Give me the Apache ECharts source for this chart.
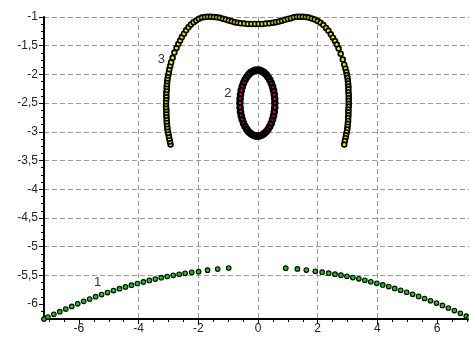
<!DOCTYPE html>
<html>
<head>
<meta charset="utf-8">
<script src="https://cdn.jsdelivr.net/npm/echarts@6/dist/echarts.min.js"></script>
<style>
  html, body { margin: 0; padding: 0; background: #fff; }
  #chart { width: 469px; height: 338px; }
</style>
</head>
<body>
<div id="chart"></div>
<script>
// Axis ticks
const xMajorTicks = [-6, -4, -2, 0, 2, 4, 6];
const xMinorTicks = [-7, -6.5, -5.5, -5, -4.5, -3.5, -3, -2.5, -1.5, -1, -0.5,
  0.5, 1, 1.5, 2.5, 3, 3.5, 4.5, 5, 5.5, 6.5, 7];
const yMajorTicks = [-6, -5.5, -5, -4.5, -4, -3.5, -3, -2.5, -2, -1.5, -1];
const yMinorTicks = [-6.25, -6.125, -5.875, -5.75, -5.625, -5.375, -5.25, -5.125,
  -4.875, -4.75, -4.625, -4.375, -4.25, -4.125, -3.875, -3.75, -3.625, -3.375,
  -3.25, -3.125, -2.875, -2.75, -2.625, -2.375, -2.25, -2.125, -1.875, -1.75,
  -1.625, -1.375, -1.25, -1.125];

// Curve 1 (green): two arms of a downward arc
const curve1X = [-7.17, -7.04, -6.84, -6.64, -6.44, -6.24, -6.04, -5.84, -5.64, -5.44,
  -5.24, -5.04, -4.84, -4.64, -4.44, -4.24, -4.04, -3.84, -3.64, -3.44,
  -3.24, -3.04, -2.84, -2.64, -2.44, -2.22, -1.99, -1.69, -1.35, -0.98,
  0.93, 1.32, 1.62, 1.92, 2.15, 2.37, 2.58, 2.78, 2.98, 3.18,
  3.38, 3.58, 3.78, 3.98, 4.18, 4.38, 4.58, 4.78, 4.98, 5.18,
  5.38, 5.58, 5.78, 5.98, 6.18, 6.38, 6.58, 6.78, 6.98, 7.07];
const curve1Y = [-6.26, -6.227, -6.179, -6.132, -6.086, -6.041, -5.995, -5.953, -5.912, -5.872,
  -5.835, -5.8, -5.765, -5.732, -5.701, -5.671, -5.642, -5.614, -5.589, -5.564,
  -5.541, -5.52, -5.5, -5.481, -5.464, -5.447, -5.435, -5.41, -5.39, -5.372,
  -5.374, -5.388, -5.408, -5.43, -5.445, -5.462, -5.479, -5.497, -5.517, -5.539,
  -5.561, -5.585, -5.611, -5.638, -5.666, -5.696, -5.727, -5.76, -5.794, -5.83,
  -5.866, -5.903, -5.942, -5.982, -6.024, -6.068, -6.114, -6.161, -6.21, -6.235];

// Curve 2 (magenta): closed loop around (0, -2.5)
const curve2X = [0.565, 0.56, 0.545, 0.521, 0.487, 0.444, 0.394, 0.336, 0.273, 0.204, 0.132, 0.057,
  -0.02, -0.097, -0.172, -0.244, -0.313, -0.376, -0.434, -0.484, -0.527, -0.561, -0.585, -0.6,
  -0.605, -0.6, -0.585, -0.561, -0.527, -0.484, -0.434, -0.376, -0.313, -0.244, -0.172, -0.097,
  -0.02, 0.057, 0.132, 0.204, 0.273, 0.336, 0.394, 0.444, 0.487, 0.521, 0.545, 0.56];
const curve2Y = [-2.5, -2.425, -2.351, -2.28, -2.213, -2.15, -2.093, -2.044, -2.002, -1.969, -1.945, -1.93,
  -1.925, -1.93, -1.945, -1.969, -2.002, -2.044, -2.093, -2.15, -2.213, -2.28, -2.351, -2.425,
  -2.5, -2.575, -2.649, -2.72, -2.787, -2.85, -2.907, -2.956, -2.998, -3.031, -3.055, -3.07,
  -3.075, -3.07, -3.055, -3.031, -2.998, -2.956, -2.907, -2.85, -2.787, -2.72, -2.649, -2.575];

// Curve 3 (yellow): arch with two legs
const curve3X = [-2.93, -2.95, -2.97, -2.99, -3.01, -3.03, -3.04, -3.05, -3.06, -3.06,
  -3.07, -3.07, -3.07, -3.08, -3.08, -3.08, -3.07, -3.07, -3.07, -3.06,
  -3.06, -3.05, -3.04, -3.03, -3.01, -2.99, -2.97, -2.94, -2.91, -2.86,
  -2.8, -2.73, -2.67, -2.61, -2.55, -2.48, -2.41, -2.33, -2.25, -2.16,
  -2.07, -1.98, -1.88, -1.78, -1.68, -1.58, -1.48, -1.38, -1.28, -1.18,
  -1.08, -0.98, -0.88, -0.78, -0.68, -0.58, -0.46, -0.34, -0.22, -0.1,
  0.02, 0.14, 0.26, 0.38, 0.5, 0.6, 0.7, 0.8, 0.9, 1.0,
  1.1, 1.2, 1.3, 1.4, 1.5, 1.6, 1.7, 1.8, 1.9, 2.0,
  2.1, 2.19, 2.28, 2.36, 2.44, 2.51, 2.58, 2.64, 2.7, 2.77,
  2.84, 2.89, 2.93, 2.96, 2.98, 3.0, 3.01, 3.02, 3.03, 3.03,
  3.03, 3.04, 3.04, 3.04, 3.04, 3.04, 3.03, 3.03, 3.03, 3.02,
  3.02, 3.01, 3.0, 2.99, 2.97, 2.95, 2.93, 2.91, 2.89];
const curve3Y = [-3.22, -3.17, -3.12, -3.07, -3.02, -2.97, -2.92, -2.87, -2.82, -2.77,
  -2.72, -2.67, -2.62, -2.57, -2.52, -2.47, -2.42, -2.37, -2.32, -2.27,
  -2.22, -2.17, -2.12, -2.07, -2.02, -1.97, -1.91, -1.85, -1.79, -1.71,
  -1.62, -1.54, -1.47, -1.41, -1.35, -1.29, -1.23, -1.18, -1.13, -1.09,
  -1.06, -1.03, -1.01, -1.0, -0.995, -0.995, -1.0, -1.005, -1.015, -1.03,
  -1.045, -1.06, -1.075, -1.09, -1.1, -1.11, -1.115, -1.12, -1.12, -1.12,
  -1.12, -1.12, -1.115, -1.11, -1.1, -1.09, -1.08, -1.065, -1.05, -1.035,
  -1.02, -1.005, -0.995, -0.995, -0.995, -1.0, -1.01, -1.025, -1.045, -1.07,
  -1.1, -1.14, -1.19, -1.24, -1.3, -1.36, -1.42, -1.48, -1.55, -1.64,
  -1.74, -1.83, -1.9, -1.96, -2.01, -2.06, -2.11, -2.16, -2.21, -2.26,
  -2.31, -2.36, -2.41, -2.46, -2.51, -2.56, -2.61, -2.66, -2.71, -2.76,
  -2.81, -2.86, -2.91, -2.96, -3.01, -3.06, -3.11, -3.16, -3.22];

const seriesNames = ['1', '2', '3'];

const X_MIN = -7.17, X_MAX = 7.07, Y_MIN = -6.26, Y_MAX = -1;

function buildPoints(xs, ys, tagIndex, tagText, tagOffset) {
  return xs.map((x, i) => {
    if (i !== tagIndex) return [x, ys[i]];
    return {
      value: [x, ys[i]],
      label: {
        show: true,
        formatter: tagText,
        position: 'inside',
        offset: tagOffset,
        color: '#333',
        fontSize: 13,
        fontFamily: 'Liberation Sans, Arial, sans-serif'
      }
    };
  });
}

const gridLine = { show: true, lineStyle: { color: '#9a9a9a', type: [5, 3], width: 1 } };
const labelFont = { color: '#222', fontSize: 12, fontFamily: 'Liberation Sans, Arial, sans-serif' };
const fmtComma = v => String(v).replace('.', ',');

const chart = echarts.init(document.getElementById('chart'), null, { renderer: 'canvas' });

chart.setOption({
  animation: false,
  backgroundColor: '#fff',
  grid: { left: 44, right: 0, top: 17, bottom: 19, containLabel: false },
  xAxis: [
    {
      type: 'value', min: X_MIN, max: X_MAX, position: 'bottom', splitNumber: 7,
      axisLine: { show: true, onZero: false, lineStyle: { color: '#000', width: 2 } },
      axisTick: { show: true, customValues: xMajorTicks, length: 5, lineStyle: { color: '#000' } },
      axisLabel: { show: true, customValues: xMajorTicks, margin: 4, formatter: fmtComma, ...labelFont },
      splitLine: { ...gridLine, showMinLine: false, showMaxLine: false }
    },
    {
      type: 'value', min: X_MIN, max: X_MAX, position: 'bottom',
      axisLine: { show: false, onZero: false },
      axisTick: { show: true, customValues: xMinorTicks, length: 3, lineStyle: { color: '#000' } },
      axisLabel: { show: false },
      splitLine: { show: false }
    }
  ],
  yAxis: [
    {
      type: 'value', min: Y_MIN, max: Y_MAX, position: 'left', splitNumber: 10,
      axisLine: { show: true, onZero: false, lineStyle: { color: '#000', width: 2 } },
      axisTick: { show: true, customValues: yMajorTicks, length: 5, lineStyle: { color: '#000' } },
      axisLabel: { show: true, customValues: yMajorTicks, margin: 6, formatter: fmtComma, ...labelFont },
      splitLine: { ...gridLine, showMinLine: false, showMaxLine: true }
    },
    {
      type: 'value', min: Y_MIN, max: Y_MAX, position: 'left',
      axisLine: { show: false, onZero: false },
      axisTick: { show: true, customValues: yMinorTicks, length: 3, lineStyle: { color: '#000' } },
      axisLabel: { show: false },
      splitLine: { show: false }
    }
  ],
  series: [
    {
      name: seriesNames[0], type: 'scatter', clip: false, silent: true,
      symbol: 'circle', symbolSize: 4.6,
      itemStyle: { color: '#18c418', borderColor: '#000', borderWidth: 1.1, opacity: 1 },
      data: buildPoints(curve1X, curve1Y, 9, seriesNames[0], [2, -14])
    },
    {
      name: seriesNames[1], type: 'scatter', clip: false, silent: true,
      symbol: 'circle', symbolSize: 5,
      itemStyle: { color: '#e8136e', borderColor: '#000', borderWidth: 2.6, opacity: 1 },
      data: buildPoints(curve2X, curve2Y, 24, seriesNames[1], [-12, -10])
    },
    {
      name: seriesNames[2], type: 'scatter', clip: false, silent: true,
      symbol: 'circle', symbolSize: 4.8,
      itemStyle: { color: '#f2ef00', borderColor: '#000', borderWidth: 1.7, opacity: 1 },
      data: buildPoints(curve3X, curve3Y, 27, seriesNames[2], [-9, -6])
    }
  ]
});
</script>
</body>
</html>
